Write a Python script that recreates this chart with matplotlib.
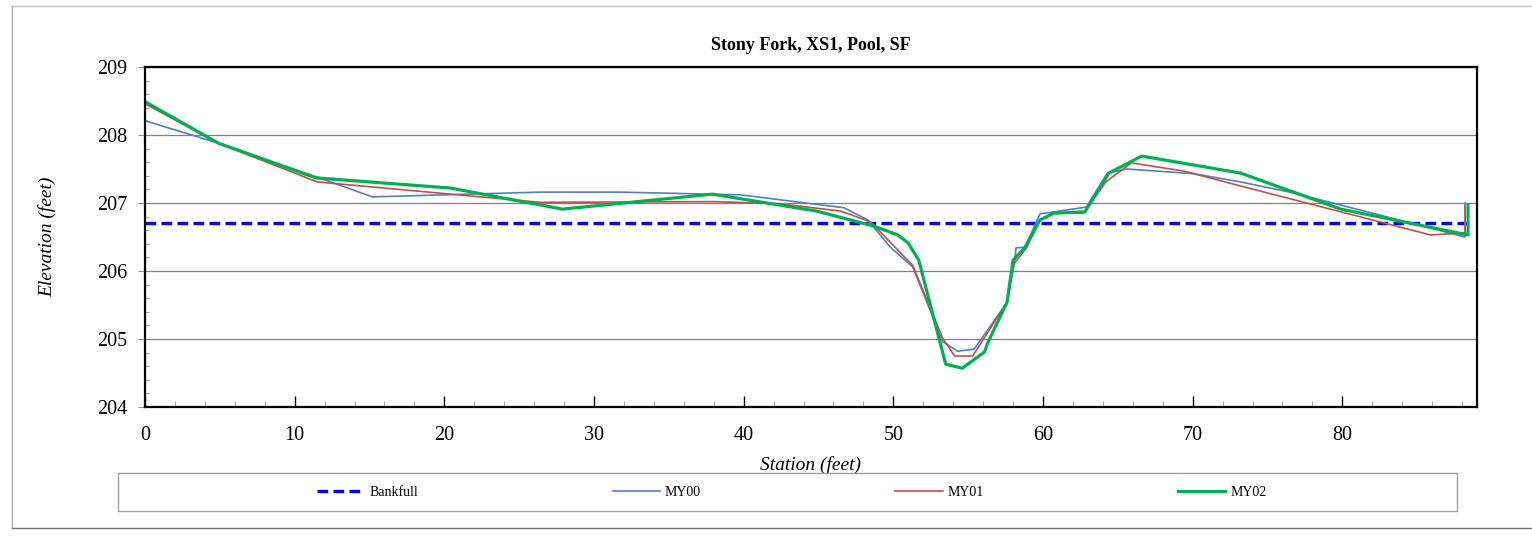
import matplotlib.pyplot as plt
from matplotlib.patches import Rectangle
from matplotlib.lines import Line2D
from matplotlib.ticker import MultipleLocator

plt.rcParams['font.family'] = ['Liberation Serif', 'DejaVu Serif']

# cross section survey data (station ft, elevation ft)
bankfull_x = [0, 88.3]
bankfull_y = [206.7, 206.7]

my00_x = [0, 4.9, 11.5, 15.2, 26.4, 31.7, 39.8, 46.7, 48.3, 49.8, 51.3, 53.3, 54.3, 55.4, 57.6,
          58.1, 58.2, 58.8, 59.8, 62.9, 64.3, 65.6, 70.1, 73.2, 76.7, 88.2, 88.2]
my00_y = [208.21, 207.88, 207.38, 207.09, 207.16, 207.16, 207.12, 206.93, 206.75, 206.35, 206.06,
          204.96, 204.82, 204.85, 205.54, 206.12, 206.34, 206.35, 206.84, 206.94, 207.44, 207.5,
          207.43, 207.31, 207.15, 206.5, 207.0]

my01_x = [0, 4.9, 11.5, 26.4, 38.0, 42.4, 46.5, 48.5, 51.3, 53.3, 54.1, 55.3, 57.6, 58.0, 58.9,
          59.8, 60.8, 62.7, 64.2, 65.9, 69.4, 73.2, 85.9, 88.2, 88.2]
my01_y = [208.46, 207.88, 207.31, 207.01, 207.02, 206.99, 206.88, 206.72, 206.08, 205.01, 204.75,
          204.75, 205.54, 206.09, 206.34, 206.75, 206.85, 206.85, 207.31, 207.59, 207.47, 207.25,
          206.53, 206.56, 206.95]

my02_x = [0, 4.9, 11.4, 20.4, 27.9, 37.9, 42.4, 44.9, 48.7, 50.3, 51.0, 51.7, 53.5, 54.6, 56.1,
          56.3, 57.6, 58.0, 58.8, 59.8, 60.7, 62.8, 64.4, 66.6, 73.2, 79.9, 88.4, 88.4]
my02_y = [208.49, 207.88, 207.37, 207.22, 206.91, 207.13, 206.97, 206.88, 206.66, 206.53, 206.41,
          206.16, 204.63, 204.57, 204.81, 204.94, 205.54, 206.16, 206.35, 206.75, 206.85, 206.87,
          207.44, 207.69, 207.44, 206.91, 206.53, 206.97]

W, H = 1532, 548
fig = plt.figure(figsize=(W / 100, H / 100), dpi=100)
ax = fig.add_axes([145 / W, 1 - 407 / H, (1477 - 145) / W, (407 - 67) / H])

l_bf, = ax.plot(bankfull_x, bankfull_y, color='#0000FF', lw=2.4, dashes=(3.2, 1.6), label='Bankfull')
l0, = ax.plot(my00_x, my00_y, color='#4F81BD', lw=1.2, label='MY00')
l1, = ax.plot(my01_x, my01_y, color='#C0504D', lw=1.2, label='MY01')
l2, = ax.plot(my02_x, my02_y, color='#00B050', lw=2.3, label='MY02')

ax.set_xlim(0, 89)
ax.set_ylim(204, 209)
ax.xaxis.set_major_locator(MultipleLocator(10))
ax.xaxis.set_minor_locator(MultipleLocator(2))
ax.yaxis.set_major_locator(MultipleLocator(1))
ax.yaxis.set_minor_locator(MultipleLocator(0.2))

ax.yaxis.grid(True, which='major', color='#808080', lw=0.9)
ax.set_axisbelow(True)

ax.tick_params(axis='x', which='major', direction='in', length=8, width=1, labelsize=14.5, pad=14)
ax.tick_params(axis='x', which='minor', direction='in', length=4, color='#909090')
ax.tick_params(axis='y', which='major', direction='out', length=5, color='#909090', labelsize=14.5, pad=8)
ax.tick_params(axis='y', which='minor', direction='in', length=3, color='#909090')
for s in ax.spines.values():
    s.set_linewidth(1.6)
    s.set_color('black')

ax.set_title('Stony Fork, XS1, Pool, SF', fontsize=13, fontweight='bold', pad=12)
ax.set_xlabel('Station (feet)', fontsize=14, style='italic', labelpad=8)
ax.set_ylabel('Elevation (feet)', fontsize=14, style='italic', labelpad=29)

# legend box like the excel one
fig.patches.append(Rectangle((118 / W, 1 - 511 / H), (1457 - 118) / W, 38 / H,
                             transform=fig.transFigure, fill=False, edgecolor='#a0a0a0', lw=1))
fig.legend(handles=[l_bf, l0, l1, l2], loc='center', bbox_to_anchor=(792 / W, 1 - 492 / H),
           ncol=4, frameon=False, fontsize=10, handlelength=3.4, handletextpad=0.35,
           columnspacing=14)

# outer chart frame
fig.lines.append(Line2D([12 / W, 1], [1 - 6 / H, 1 - 6 / H], transform=fig.transFigure, color='#c0c0c0', lw=1))
fig.lines.append(Line2D([12 / W, 12 / W], [1 - 6 / H, 1 - 528 / H], transform=fig.transFigure, color='#b0b0b0', lw=1))
fig.lines.append(Line2D([12 / W, 1], [1 - 528 / H, 1 - 528 / H], transform=fig.transFigure, color='#707070', lw=1))

fig.savefig('out.png', dpi=100)
